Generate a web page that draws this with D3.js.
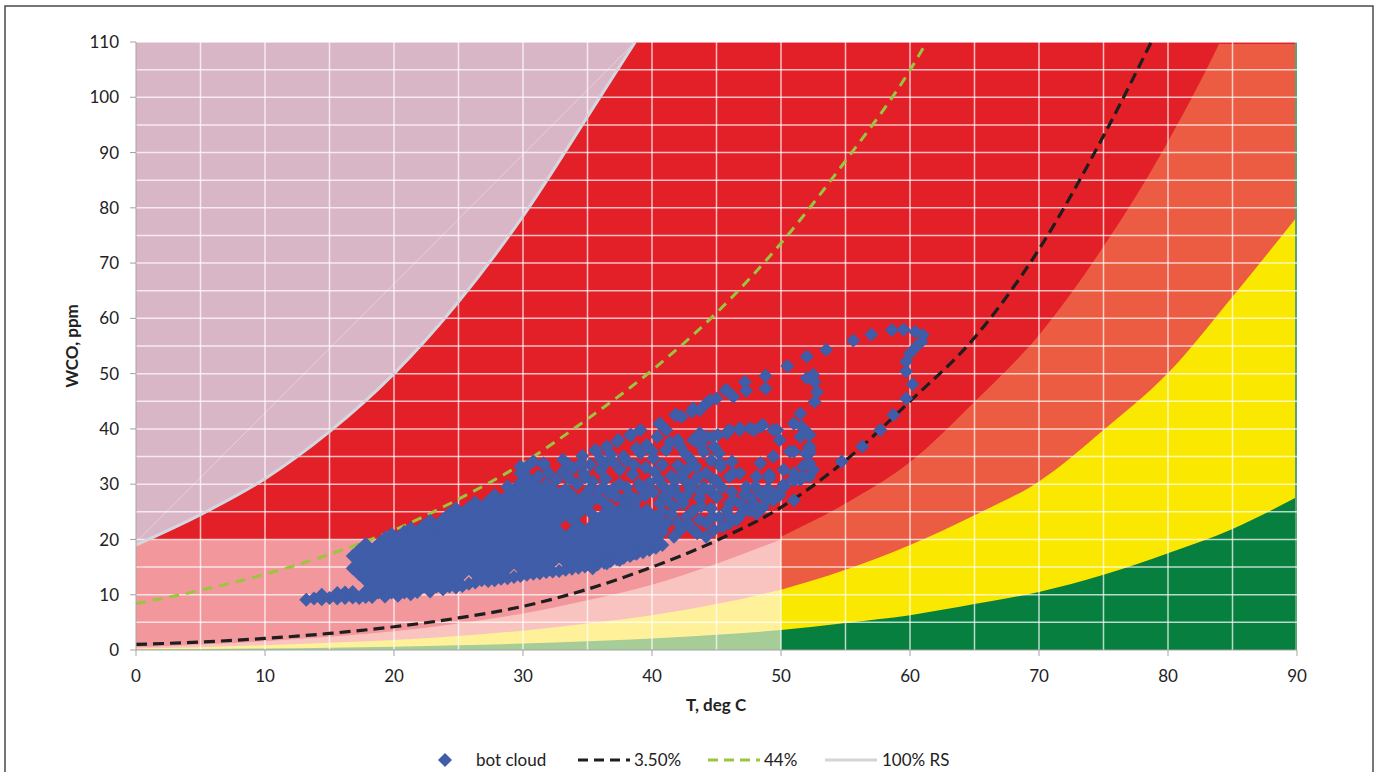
<!DOCTYPE html>
<html>
<head>
<meta charset="utf-8">
<script src="https://cdn.jsdelivr.net/npm/d3@7"></script>
<style>
  body { margin: 0; background: #fff; }
  svg { display: block; font-family: Lato, "Open Sans", sans-serif; }
</style>
</head>
<body>
<div id="my_dataviz"></div>
<script>
// ticks
const tempTicks = [0, 10, 20, 30, 40, 50, 60, 70, 80, 90];
const wcoTicks = [0, 10, 20, 30, 40, 50, 60, 70, 80, 90, 100, 110];

// zones for T >= 50 (strong colours)
const hotT      = [50, 55, 60, 65, 70, 75, 80, 85, 90];
const hotOrange = [20.5, 26.5, 34, 44.9, 57, 73, 92, 115, 145];
const hotYellow = [10.9, 14.5, 19.0, 24.4, 30.5, 39.8, 50.1, 63.9, 78.4];
const hotGreen  = [3.6, 4.9, 6.3, 8.3, 10.5, 13.6, 17.5, 21.9, 27.7];

// zones for T < 50 (light colours)
const coolT      = [0, 5, 10, 15, 20, 25, 30, 35, 40, 45, 50];
const coolPink   = [20, 20, 20, 20, 20, 20, 20, 20, 20, 20, 20];
const coolOrange = [0.5, 1.0, 1.6, 2.4, 3.4, 4.8, 6.6, 9.0, 11.8, 15.6, 20];
const coolYellow = [0.25, 0.5, 0.85, 1.3, 1.8, 2.55, 3.5, 4.8, 6.3, 8.3, 10.9];
const coolGreen  = [0.09, 0.18, 0.28, 0.42, 0.6, 0.85, 1.16, 1.6, 2.1, 2.75, 3.6];

// saturation curves
const rs100T = [0, 5, 10, 15, 20, 25, 30, 35, 38.7];
const rs100W = [19, 24.5, 31, 39.5, 50, 63, 78.5, 96.5, 110];
const rs44T  = [0, 5, 10, 15, 20, 25, 30, 35, 40, 45, 50, 55, 60, 61.3];
const rs44W  = [8.4, 10.8, 13.7, 17.3, 21.7, 27.3, 33.8, 41.8, 50.6, 61, 73.6, 88.5, 104.9, 110];
const rs35T  = [0, 5, 10, 15, 20, 25, 30, 35, 40, 45, 50, 55, 60, 65, 70, 75, 78.7];
const rs35W  = [1.0, 1.45, 2.1, 3.0, 4.2, 5.8, 7.9, 11.0, 15.0, 19.8, 25.8, 34.3, 45, 56.5, 72.5, 93, 110];

// bot cloud, dense part: [T, wco, wco, ...]
const cloudColumns = [
  [13.2, 9.1], [13.8, 9.3], [14.4, 9.2, 10.0], [15.0, 9.4], [15.6, 9.3, 10.3], [16.2, 9.4, 10.4],
  [16.8, 9.5, 10.5, 14.8, 17.0],
  [17.3, 9.4, 13.7, 15.9, 18.1],
  [17.8, 9.6, 10.6, 12.6, 14.8, 17.0, 19.2],
  [18.3, 9.6, 11.5, 13.7, 15.9, 18.1],
  [18.8, 10.4, 12.6, 14.8, 17.0, 19.2],
  [19.3, 9.7, 11.5, 13.7, 15.9, 18.1, 20.3],
  [19.8, 10.4, 12.6, 14.8, 17.0, 19.2, 21.0],
  [20.3, 9.8, 11.5, 13.7, 15.9, 18.1, 20.3],
  [20.8, 10.4, 12.6, 14.8, 17.0, 19.2, 21.4],
  [21.3, 10.1, 11.5, 13.7, 15.9, 18.1, 20.3, 22.0],
  [21.8, 10.5, 12.6, 14.8, 17.0, 19.2, 21.4],
  [22.3, 11.5, 13.7, 15.9, 18.1, 20.3, 22.5],
  [22.8, 10.6, 12.6, 14.8, 17.0, 19.2, 21.4, 23.4],
  [23.3, 11.5, 13.7, 15.9, 18.1, 20.3, 22.5],
  [23.8, 11.0, 12.6, 14.8, 17.0, 19.2, 21.4, 23.6],
  [24.3, 11.5, 13.7, 15.9, 18.1, 20.3, 22.5, 24.7],
  [24.8, 11.3, 12.6, 14.8, 17.0, 19.2, 21.4, 23.6, 25.6],
  [25.3, 11.6, 13.7, 15.9, 18.1, 20.3, 22.5, 24.7],
  [25.8, 12.0, 14.8, 17.0, 19.2, 21.4, 23.6, 25.8],
  [26.3, 12.2, 13.7, 15.9, 18.1, 20.3, 22.5, 24.7, 26.7],
  [26.8, 12.6, 14.8, 17.0, 19.2, 21.4, 23.6, 25.8],
  [27.3, 12.5, 13.7, 15.9, 18.1, 20.3, 22.5, 24.7, 26.9],
  [27.8, 12.6, 14.8, 17.0, 19.2, 21.4, 23.6, 25.8, 28.0],
  [28.3, 12.9, 13.9, 15.9, 18.1, 20.3, 22.5, 24.7, 26.9],
  [28.8, 13.0, 14.8, 17.0, 19.2, 21.4, 23.6, 25.8, 28.0, 29.6],
  [29.3, 13.2, 15.9, 18.1, 20.3, 22.5, 24.7, 26.9, 29.1],
  [29.8, 13.4, 14.8, 17.0, 19.2, 21.4, 23.6, 25.8, 28.0, 30.2, 32.0],
  [30.3, 13.6, 15.9, 18.1, 20.3, 22.5, 24.7, 26.9, 29.1, 31.3, 33.2],
  [30.8, 13.8, 14.8, 17.0, 19.2, 21.4, 23.6, 25.8, 28.0, 30.2],
  [31.3, 13.9, 15.9, 18.1, 20.3, 22.5, 24.7, 26.9, 29.1],
  [31.8, 14.1, 14.8, 17.0, 19.2, 21.4, 23.6, 25.8, 28.0, 30.0],
  [32.3, 14.2, 15.9, 18.1, 20.3, 22.5, 24.7, 26.9, 29.1],
  [32.8, 14.3, 17.0, 19.2, 21.4, 23.6, 25.8, 28.0],
  [33.3, 14.5, 15.9, 18.1, 20.3, 24.7, 26.9, 29.1],
  [33.8, 14.7, 17.0, 19.2, 21.4, 23.6, 25.8, 28.0],
  [34.3, 14.9, 15.9, 18.1, 20.3, 22.5, 24.7, 26.9],
  [34.8, 15.1, 17.0, 19.2, 21.4, 25.8, 28.0],
  [35.3, 15.3, 16.2, 18.1, 20.3, 22.5, 24.7, 26.9],
  [35.8, 15.5, 17.0, 19.2, 21.4, 23.6, 27.5],
  [36.3, 15.8, 18.1, 20.3, 22.5, 24.7, 26.6],
  [36.8, 16.1, 17.0, 19.2, 21.4, 23.6, 25.8],
  [37.3, 16.4, 18.1, 20.3, 22.5, 24.7],
  [37.8, 16.7, 17.6, 19.2, 21.4, 23.6, 25.9],
  [38.3, 17.0, 18.1, 20.3, 22.5, 24.7],
  [38.8, 17.4, 19.2, 21.4, 23.6, 25.3],
  [39.3, 17.7, 18.7, 20.3, 22.5, 24.2],
  [39.8, 18.1, 19.2, 21.4, 23.6],
  [40.3, 18.5, 20.3, 22.5, 24.1],
  [40.8, 19.0, 21.4, 23.0]
];

// bot cloud, loose points [T, wco]
const cloudLoose = [
  [29.8, 33.2], [30.8, 34.1], [31.6, 33.5], [31.6, 33.8], [33.1, 34.4], [33.1, 32.3], [33.9, 32.9],
  [34.6, 35.1], [34.7, 32.0], [35.4, 30.5], [35.6, 36.2], [35.7, 35.9], [36.2, 29.5], [36.5, 36.8],
  [36.7, 28.3], [37.3, 37.7], [37.4, 38.0], [37.8, 27.1], [38.3, 38.9], [38.4, 38.9], [39.1, 39.8],
  [40.6, 40.9], [40.6, 41.0], [41.8, 42.5], [41.9, 42.5], [42.3, 42.2], [43.1, 43.1], [43.2, 43.7],
  [43.7, 43.4], [44.2, 44.6], [44.5, 45.2], [45.0, 45.5], [45.7, 47.0], [45.8, 47.0], [46.3, 45.8],
  [47.2, 48.5], [47.3, 46.9], [48.8, 49.6], [48.8, 47.3], [50.5, 51.4], [52.0, 53.1], [53.5, 54.3],
  [55.6, 56.0], [57.0, 57.1], [58.6, 57.9], [59.5, 58.0], [60.4, 57.6], [61.0, 57.0], [60.9, 55.8],
  [60.5, 54.9], [60.0, 53.7], [59.7, 52.2], [59.7, 50.4], [60.2, 48.1], [59.7, 45.5], [58.7, 42.5],
  [57.7, 39.8], [56.3, 36.8], [54.7, 34.1],
  [41.1, 39.8], [40.4, 38.6], [39.6, 37.1], [39.1, 35.6], [40.1, 34.7], [41.1, 36.2], [42.2, 36.8],
  [43.2, 38.0], [43.7, 39.2], [44.7, 38.6], [45.8, 39.2], [46.8, 39.8], [47.9, 39.8], [48.6, 40.7],
  [49.7, 39.8], [51.0, 41.0], [51.5, 42.8], [52.0, 49.2], [52.5, 49.8], [52.6, 48.5], [52.8, 46.7],
  [52.6, 44.9], [51.6, 40.4], [52.1, 39.2], [52.2, 38.9], [52.2, 36.8], [52.2, 35.6], [52.2, 33.8],
  [51.7, 33.2], [52.2, 31.4], [51.5, 30.8], [51.1, 30.8], [51.0, 32.0], [50.7, 35.9], [51.0, 35.9],
  [51.9, 35.6], [51.5, 38.6], [49.9, 38.0], [49.4, 39.8], [48.4, 40.4], [47.6, 40.1], [46.8, 40.1],
  [46.0, 39.8], [45.1, 38.9], [44.2, 38.6], [48.4, 33.8], [49.1, 31.7], [50.2, 29.9], [49.9, 28.0],
  [51.0, 27.1], [49.4, 27.1], [47.6, 27.7], [46.3, 32.0], [45.3, 33.8], [44.8, 30.8], [44.0, 29.5],
  [46.0, 26.5], [47.1, 25.9], [48.1, 24.7], [50.2, 32.6], [49.4, 35.0], [48.1, 31.4], [49.1, 31.1],
  [50.2, 29.5], [49.4, 28.3], [48.4, 28.3], [47.3, 29.5], [46.8, 32.0], [46.0, 31.4], [46.2, 34.1],
  [45.3, 33.2], [44.2, 32.0], [43.6, 31.4], [42.7, 30.2], [41.7, 29.5], [40.1, 28.6], [40.9, 27.7],
  [44.5, 28.9], [45.0, 27.7], [43.7, 27.4], [46.3, 27.1], [45.8, 25.3], [46.8, 26.5], [47.9, 26.5],
  [48.9, 27.1], [49.7, 28.3], [44.7, 24.1], [43.7, 23.5], [42.7, 24.1], [41.7, 25.9], [42.4, 26.5],
  [40.6, 26.5], [39.6, 25.3], [38.6, 26.5], [37.5, 32.6], [37.8, 35.0], [36.0, 32.6], [43.2, 21.7],
  [44.8, 21.7], [46.0, 22.9], [44.2, 20.5], [42.2, 21.7], [41.1, 22.9], [40.1, 24.1], [41.7, 20.5],
  [40.4, 19.3], [39.3, 18.7], [38.6, 17.5], [37.5, 16.3], [36.5, 15.7], [35.4, 14.8], [43.5, 21.1],
  [38.0, 34.2], [38.8, 36.5], [37.0, 34.0], [36.4, 33.8], [35.2, 33.5], [39.5, 33.0], [40.8, 33.5],
  [42.0, 33.4], [43.0, 34.5], [44.0, 35.8], [42.6, 35.4], [41.5, 31.5], [40.5, 31.0], [39.0, 30.0],
  [38.0, 29.5], [43.0, 29.0], [42.0, 28.0], [39.5, 28.0], [37.5, 30.0], [38.5, 31.8],
  [52.5, 32.6], [51.7, 31.4], [50.9, 30.8], [52.2, 36.2], [52.0, 39.2], [51.0, 41.0],
  [31.2, 31.5], [32.0, 32.0], [32.6, 30.8], [33.6, 31.0], [34.2, 30.0], [34.8, 31.2], [35.2, 29.2],
  [35.8, 28.5], [36.4, 31.0], [37.0, 29.2], [37.2, 27.8], [38.2, 28.2], [38.8, 27.3], [39.2, 29.2],
  [39.8, 30.2], [40.2, 32.2], [40.8, 29.8], [41.3, 28.4], [41.8, 30.8], [42.4, 31.8], [42.8, 32.8],
  [43.4, 33.2], [44.6, 34.3], [45.2, 35.6], [44.8, 36.8], [43.8, 37.0], [42.0, 38.0], [41.4, 37.6],
  [40.0, 36.0], [38.6, 33.5], [36.8, 35.4], [36.0, 34.5], [34.5, 33.8], [33.5, 33.6],
  [41.5, 24.5], [42.0, 23.0], [42.8, 22.8], [43.2, 25.2], [43.8, 26.0], [44.2, 23.0], [44.6, 25.6],
  [45.2, 24.0], [45.5, 22.3], [46.0, 24.2], [46.6, 23.6], [47.0, 24.8], [47.6, 25.2], [48.0, 26.0],
  [48.6, 25.8], [49.0, 29.2], [48.0, 29.6], [47.2, 28.2], [46.2, 28.6], [45.4, 29.4], [45.0, 30.6],
  [43.8, 28.6], [43.2, 30.2], [42.6, 27.8], [41.2, 27.0], [40.8, 25.0]
];

const margin = {top: 42, left: 136},
    width = 1161,
    height = 608;

const x = d3.scaleLinear().domain([0, 90]).range([0, width]);
const y = d3.scaleLinear().domain([0, 110]).range([height, 0]);

const svg = d3.select("#my_dataviz").append("svg")
    .attr("width", 1382)
    .attr("height", 772);

// outer frame
svg.append("rect")
    .attr("x", 5).attr("y", 6)
    .attr("width", 1368).attr("height", 800)
    .attr("fill", "none")
    .attr("stroke", "#4a4a4a")
    .attr("stroke-width", 1.5);

const g = svg.append("g")
    .attr("transform", "translate(" + margin.left + "," + margin.top + ")");

g.append("clipPath").attr("id", "plot-clip")
  .append("rect").attr("width", width).attr("height", height);

const zones = g.append("g").attr("clip-path", "url(#plot-clip)");

// red everywhere, the other zones go on top
zones.append("rect")
    .attr("width", width).attr("height", height)
    .attr("fill", "#e31f28");

function band(ts, ws, color) {
  const area = d3.area()
      .x(d => x(d[0]))
      .y0(y(0))
      .y1(d => y(d[1]))
      .curve(d3.curveMonotoneX);
  zones.append("path")
      .datum(ts.map((t, i) => [t, ws[i]]))
      .attr("d", area)
      .attr("fill", color);
}

band(hotT, hotOrange, "#eb5c42");
band(hotT, hotYellow, "#fae800");
band(hotT, hotGreen, "#067f3f");

band(coolT, coolPink, "#f2989c");
band(coolT, coolOrange, "#f9c4c0");
band(coolT, coolYellow, "#fef19a");
band(coolT, coolGreen, "#a6cd97");

// supersaturated region above 100% RS
zones.append("path")
    .datum(rs100T.map((t, i) => [t, rs100W[i]]))
    .attr("d", d3.area()
        .x(d => x(d[0]))
        .y0(y(110))
        .y1(d => y(d[1]))
        .curve(d3.curveMonotoneX))
    .attr("fill", "#d9b6c5");

// faint chord left over from the area outline
zones.append("line")
    .attr("x1", x(0)).attr("y1", y(19.5))
    .attr("x2", x(38.7)).attr("y2", y(110))
    .attr("stroke", "#fff").attr("stroke-opacity", 0.35).attr("stroke-width", 1);

// top and right edge remnants
zones.append("line")
    .attr("x1", x(83.5)).attr("x2", x(90))
    .attr("y1", 1).attr("y2", 1)
    .attr("stroke", "#e31f28").attr("stroke-width", 2);
zones.append("line")
    .attr("x1", width - 1).attr("x2", width - 1)
    .attr("y1", 0).attr("y2", height)
    .attr("stroke", "#5aa36c").attr("stroke-width", 2);

// gridlines every 5 units
const grid = g.append("g")
    .attr("stroke", "#ffffff")
    .attr("stroke-opacity", 0.72)
    .attr("stroke-width", 1.5);
grid.selectAll(".vg")
    .data(d3.range(5, 90, 5))
  .enter().append("line")
    .attr("x1", d => x(d)).attr("x2", d => x(d))
    .attr("y1", 0).attr("y2", height);
grid.selectAll(".hg")
    .data(d3.range(5, 115, 5))
  .enter().append("line")
    .attr("x1", 0).attr("x2", width)
    .attr("y1", d => y(d)).attr("y2", d => y(d));

const curves = g.append("g").attr("clip-path", "url(#plot-clip)");
const line = d3.line()
    .x(d => x(d[0]))
    .y(d => y(d[1]))
    .curve(d3.curveMonotoneX);

curves.append("path")
    .datum(rs100T.map((t, i) => [t, rs100W[i]]))
    .attr("d", line)
    .attr("fill", "none")
    .attr("stroke", "#d4d6e0")
    .attr("stroke-width", 3);

curves.append("path")
    .datum(rs44T.map((t, i) => [t, rs44W[i]]))
    .attr("d", line)
    .attr("fill", "none")
    .attr("stroke", "#9bc53d")
    .attr("stroke-width", 3)
    .attr("stroke-dasharray", "10,7");

curves.append("path")
    .datum(rs35T.map((t, i) => [t, rs35W[i]]))
    .attr("d", line)
    .attr("fill", "none")
    .attr("stroke", "#1e1e1e")
    .attr("stroke-width", 3.2)
    .attr("stroke-dasharray", "11,6");

// bot cloud markers
const cloud = cloudColumns.flatMap(c => c.slice(1).map(w => [c[0], w])).concat(cloudLoose);
const diamond = d3.symbol().type(d3.symbolSquare).size(98);

g.append("g").selectAll(".pt")
    .data(cloud)
  .enter().append("path")
    .attr("d", diamond)
    .attr("transform", d => "translate(" + x(d[0]) + "," + y(d[1]) + ") rotate(45)")
    .attr("fill", "#3f5da8");

// axes
const axisColor = "#a3a3a3";
g.append("line")
    .attr("x1", 0).attr("x2", 0).attr("y1", 0).attr("y2", height)
    .attr("stroke", axisColor);
g.append("line")
    .attr("x1", 0).attr("x2", width).attr("y1", height).attr("y2", height)
    .attr("stroke", axisColor);

g.selectAll(".ytick")
    .data(wcoTicks)
  .enter().append("line")
    .attr("x1", -6).attr("x2", 0)
    .attr("y1", d => y(d)).attr("y2", d => y(d))
    .attr("stroke", axisColor);
g.selectAll(".ylab")
    .data(wcoTicks)
  .enter().append("text")
    .attr("x", -17)
    .attr("y", d => y(d))
    .attr("dy", "0.36em")
    .attr("text-anchor", "end")
    .attr("font-size", 17)
    .attr("fill", "#222")
    .text(d => d);

g.selectAll(".xtick")
    .data(tempTicks)
  .enter().append("line")
    .attr("x1", d => x(d)).attr("x2", d => x(d))
    .attr("y1", height).attr("y2", height + 6)
    .attr("stroke", axisColor);
g.selectAll(".xlab")
    .data(tempTicks)
  .enter().append("text")
    .attr("x", d => x(d))
    .attr("y", height + 26)
    .attr("dy", "0.36em")
    .attr("text-anchor", "middle")
    .attr("font-size", 17)
    .attr("fill", "#222")
    .text(d => d);

// axis titles
svg.append("text")
    .attr("x", 716).attr("y", 711)
    .attr("text-anchor", "middle")
    .attr("font-size", 17)
    .attr("font-weight", "bold")
    .attr("fill", "#222")
    .text("T, deg C");

svg.append("text")
    .attr("transform", "translate(78,346) rotate(-90)")
    .attr("text-anchor", "middle")
    .attr("font-size", 17)
    .attr("font-weight", "bold")
    .attr("fill", "#222")
    .text("WCO, ppm");

// legend
const legend = svg.append("g").attr("font-size", 17).attr("fill", "#222");
legend.append("path")
    .attr("d", diamond)
    .attr("transform", "translate(445,760) rotate(45)")
    .attr("fill", "#3f5da8");
legend.append("text").attr("x", 476).attr("y", 766).text("bot cloud");

legend.append("line")
    .attr("x1", 578).attr("x2", 630).attr("y1", 760).attr("y2", 760)
    .attr("stroke", "#1e1e1e").attr("stroke-width", 3).attr("stroke-dasharray", "10,6");
legend.append("text").attr("x", 634).attr("y", 766).text("3.50%");

legend.append("line")
    .attr("x1", 708).attr("x2", 760).attr("y1", 760).attr("y2", 760)
    .attr("stroke", "#9bc53d").attr("stroke-width", 3).attr("stroke-dasharray", "10,6");
legend.append("text").attr("x", 764).attr("y", 766).text("44%");

legend.append("line")
    .attr("x1", 825).attr("x2", 877).attr("y1", 760).attr("y2", 760)
    .attr("stroke", "#d4d4d4").attr("stroke-width", 3);
legend.append("text").attr("x", 882).attr("y", 766).text("100% RS");
</script>
</body>
</html>
